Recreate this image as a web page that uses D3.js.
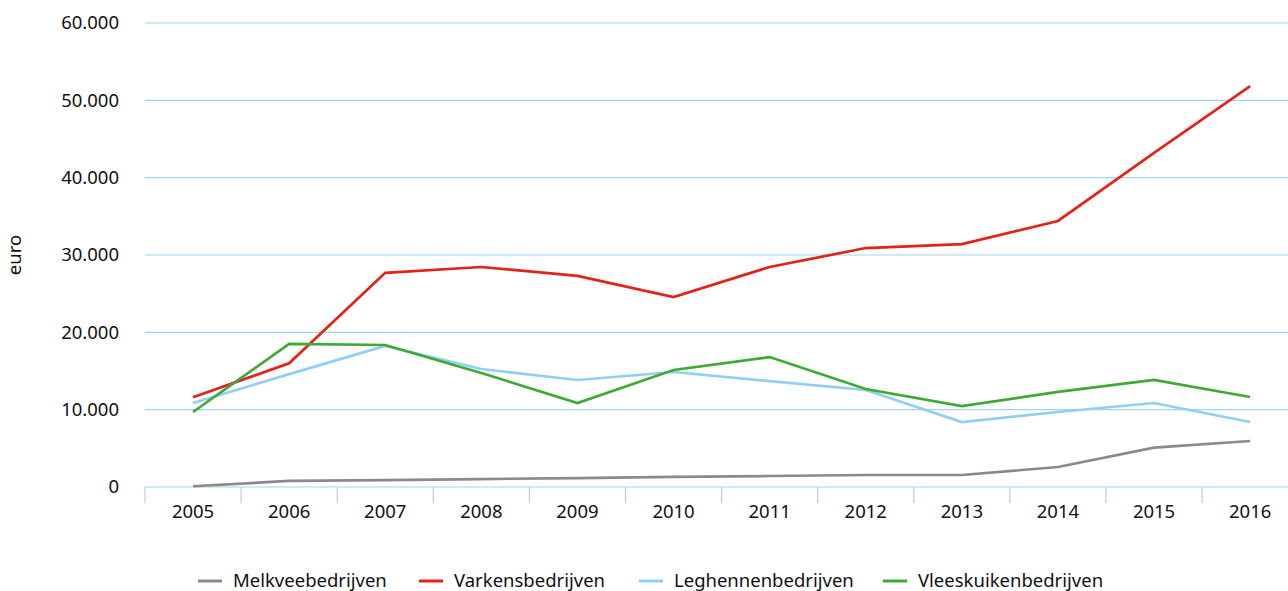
<!DOCTYPE html>
<html>
<head>
<meta charset="utf-8">
<script src="https://cdn.jsdelivr.net/npm/d3@7"></script>
<style>
  body { margin: 0; background: #fff; }
  svg { display: block; font-family: "Noto Sans", "Open Sans", sans-serif; }
</style>
</head>
<body>
<svg id="chart" width="1288" height="591"></svg>
<script>
const years = ["2005","2006","2007","2008","2009","2010","2011","2012","2013","2014","2015","2016"];
const melkvee = [100, 780, 900, 1030, 1160, 1300, 1420, 1550, 1550, 2590, 5100, 5950];
const varkens = [11600, 16000, 27700, 28450, 27300, 24570, 28450, 30900, 31400, 34400, 43200, 51850];
const leghennen = [10860, 14600, 18230, 15260, 13840, 14870, 13700, 12540, 8400, 9700, 10860, 8400];
const vleeskuiken = [9700, 18500, 18360, 14740, 10860, 15130, 16800, 12670, 10470, 12290, 13840, 11640];
const yTicks = [0, 10000, 20000, 30000, 40000, 50000, 60000];

const series = [
  {name: "Melkveebedrijven", values: melkvee, color: "#8a8a8a"},
  {name: "Varkensbedrijven", values: varkens, color: "#e2231a"},
  {name: "Leghennenbedrijven", values: leghennen, color: "#8fd0f2"},
  {name: "Vleeskuikenbedrijven", values: vleeskuiken, color: "#3ea935"}
];

const margin = {top: 23, left: 145, bottom: 104};
const width = 1288, height = 591;
const gridColor = "#9fd5f0";
const fontSize = 18.5;

const svg = d3.select("#chart");

const x = d3.scaleBand()
    .domain(years)
    .range([margin.left, margin.left + 96.1 * years.length]);

const y = d3.scaleLinear()
    .domain([0, 60000])
    .range([height - margin.bottom, margin.top]);

const fmt = v => d3.format(",")(v).replace(/,/g, ".");

// gridlines
svg.append("g")
  .selectAll("line")
  .data(yTicks.filter(d => d > 0))
  .join("line")
    .attr("x1", margin.left).attr("x2", width)
    .attr("y1", d => y(d)).attr("y2", d => y(d))
    .attr("stroke", gridColor).attr("stroke-width", 1.2);

// y labels
svg.append("g")
  .selectAll("text")
  .data(yTicks)
  .join("text")
    .attr("x", 119)
    .attr("y", d => y(d))
    .attr("dy", "0.35em")
    .attr("text-anchor", "end")
    .attr("font-size", fontSize)
    .attr("fill", "#111")
    .text(d => fmt(d));

svg.append("text")
    .attr("transform", "translate(21,255) rotate(-90)")
    .attr("text-anchor", "middle")
    .attr("font-size", fontSize)
    .attr("fill", "#111")
    .text("euro");

// x axis
const xAxis = d3.axisBottom(x).tickSize(0).tickPadding(18);
const gx = svg.append("g")
    .attr("transform", `translate(0,${y(0)})`)
    .call(xAxis);
gx.select(".domain").remove();
gx.selectAll("text").attr("font-size", fontSize).attr("fill", "#111").attr("font-family", "Noto Sans, sans-serif");

svg.append("line")
    .attr("x1", margin.left).attr("x2", width)
    .attr("y1", y(0)).attr("y2", y(0))
    .attr("stroke", gridColor).attr("stroke-width", 1.2);

svg.append("g")
  .selectAll("line")
  .data(years)
  .join("line")
    .attr("x1", d => x(d)).attr("x2", d => x(d))
    .attr("y1", y(0)).attr("y2", y(0) + 16)
    .attr("stroke", gridColor).attr("stroke-width", 1.2);

// lines
const line = d3.line()
    .x((d, i) => x(years[i]) + x.bandwidth() / 2)
    .y(d => y(d));

svg.append("g")
  .selectAll("path")
  .data(series)
  .join("path")
    .attr("fill", "none")
    .attr("stroke", d => d.color)
    .attr("stroke-width", 2.7)
    .attr("d", d => line(d.values));

// legend
const legendX = [198, 419, 639, 883];
const lg = svg.append("g")
  .selectAll("g")
  .data(series)
  .join("g")
    .attr("transform", (d, i) => `translate(${legendX[i]},581)`);
lg.append("line")
    .attr("x1", 0).attr("x2", 24)
    .attr("stroke", d => d.color).attr("stroke-width", 3);
lg.append("text")
    .attr("x", 35)
    .attr("dy", "0.35em")
    .attr("font-size", fontSize)
    .attr("fill", "#111")
    .text(d => d.name);
</script>
</body>
</html>
